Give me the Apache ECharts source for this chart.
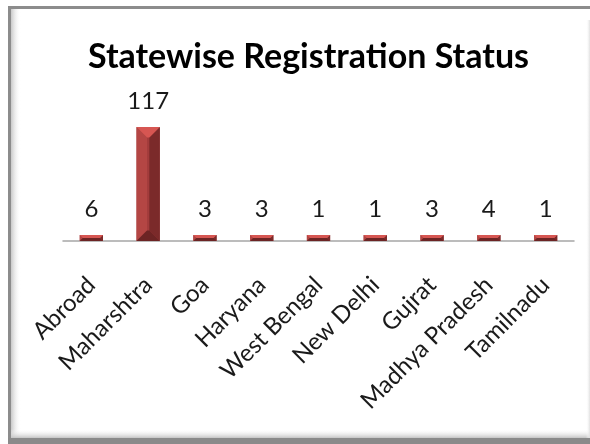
<!DOCTYPE html>
<html>
<head>
<meta charset="utf-8">
<script src="https://cdn.jsdelivr.net/npm/echarts@6/dist/echarts.min.js"></script>
<style>
html,body{margin:0;padding:0;background:#fff;}
#chart{width:590px;height:444px;}
</style>
</head>
<body>
<div id="chart"></div>
<script>
const categories = ['Abroad', 'Maharshtra', 'Goa', 'Haryana', 'West Bengal', 'New Delhi', 'Gujrat', 'Madhya Pradesh', 'Tamilnadu'];
const registrations = [6, 117, 3, 3, 1, 1, 3, 4, 1];
const titleText = 'Statewise Registration Status';

const chart = echarts.init(document.getElementById('chart'));

function renderBevelBar(params, api) {
  const idx = api.value(0);
  const val = api.value(1);
  const top = api.coord([idx, val]);
  const base = api.coord([idx, 0]);
  const w = api.size([1, 0])[0] * 0.41;
  let h = base[1] - top[1];
  if (h < 6) h = 6;
  const cx = top[0];
  const l = cx - w / 2, r = cx + w / 2, b = base[1], t = b - h;
  const bv = Math.min(w * 0.45, h / 2);
  const poly = (pts, color) => ({ type: 'polygon', shape: { points: pts }, style: { fill: color } });
  return {
    type: 'group',
    children: [
      { type: 'rect', shape: { x: l, y: t, width: w, height: h }, style: { fill: '#a33c3c' } },
      poly([[l, t], [l + bv, t + bv], [l + bv, b - bv], [l, b]], '#b44644'),
      poly([[r, t], [r, b], [r - bv, b - bv], [r - bv, t + bv]], '#7b2a2a'),
      poly([[l, b], [r, b], [r - bv, b - bv], [l + bv, b - bv]], '#6c2424'),
      poly([[l, t], [r, t], [r - bv, t + bv], [l + bv, t + bv]], '#d65652'),
      { type: 'text', style: { text: String(val), x: cx, y: t - 14, align: 'center', verticalAlign: 'bottom', fontSize: 24, fontFamily: 'Lato', fill: '#1a1a1a' } }
    ]
  };
}

chart.setOption({
  animation: false,
  backgroundColor: '#ffffff',
  title: {
    text: titleText,
    left: 83,
    top: 35,
    textStyle: { fontFamily: 'Lato', fontWeight: 'bold', fontSize: 34, color: '#000' }
  },
  graphic: [
    { type: 'rect', shape: { x: 8, y: 6, width: 582, height: 3 }, style: { fill: '#8c8c8c' }, z: 100 },
    { type: 'rect', shape: { x: 8, y: 6, width: 3, height: 438 }, style: { fill: '#8c8c8c' }, z: 100 },
    { type: 'rect', shape: { x: 11, y: 9, width: 10, height: 430 },
      style: { fill: new echarts.graphic.LinearGradient(0, 0, 1, 0, [{ offset: 0, color: '#c8c8c8' }, { offset: 1, color: 'rgba(255,255,255,0)' }]) }, z: 99 },
    { type: 'rect', shape: { x: 11, y: 429, width: 579, height: 9 },
      style: { fill: new echarts.graphic.LinearGradient(0, 0, 0, 1, [{ offset: 0, color: 'rgba(255,255,255,0)' }, { offset: 1, color: '#c4c4c4' }]) }, z: 99 },
    { type: 'rect', shape: { x: 8, y: 438, width: 582, height: 6 }, style: { fill: '#8a8a8a' }, z: 100 },
    { type: 'rect', shape: { x: 586, y: 20, width: 4, height: 418 },
      style: { fill: new echarts.graphic.LinearGradient(0, 0, 1, 0, [{ offset: 0, color: 'rgba(255,255,255,0)' }, { offset: 1, color: '#e0e0e0' }]) }, z: 99 }
  ],
  grid: { left: 63, right: 16, top: 127, bottom: 203, containLabel: false },
  xAxis: {
    type: 'category',
    data: categories,
    axisLine: { show: true, lineStyle: { color: '#a6a6a6', width: 1.5 } },
    axisTick: { show: false },
    axisLabel: { rotate: 45, margin: 40, interval: 0, fontFamily: 'Lato', fontSize: 24, color: '#1a1a1a' }
  },
  yAxis: { type: 'value', min: 0, max: 117, show: false, splitLine: { show: false } },
  series: [{
    type: 'custom',
    renderItem: renderBevelBar,
    encode: { x: 0, y: 1 },
    data: registrations.map((v, i) => [i, v])
  }]
});
</script>
</body>
</html>
